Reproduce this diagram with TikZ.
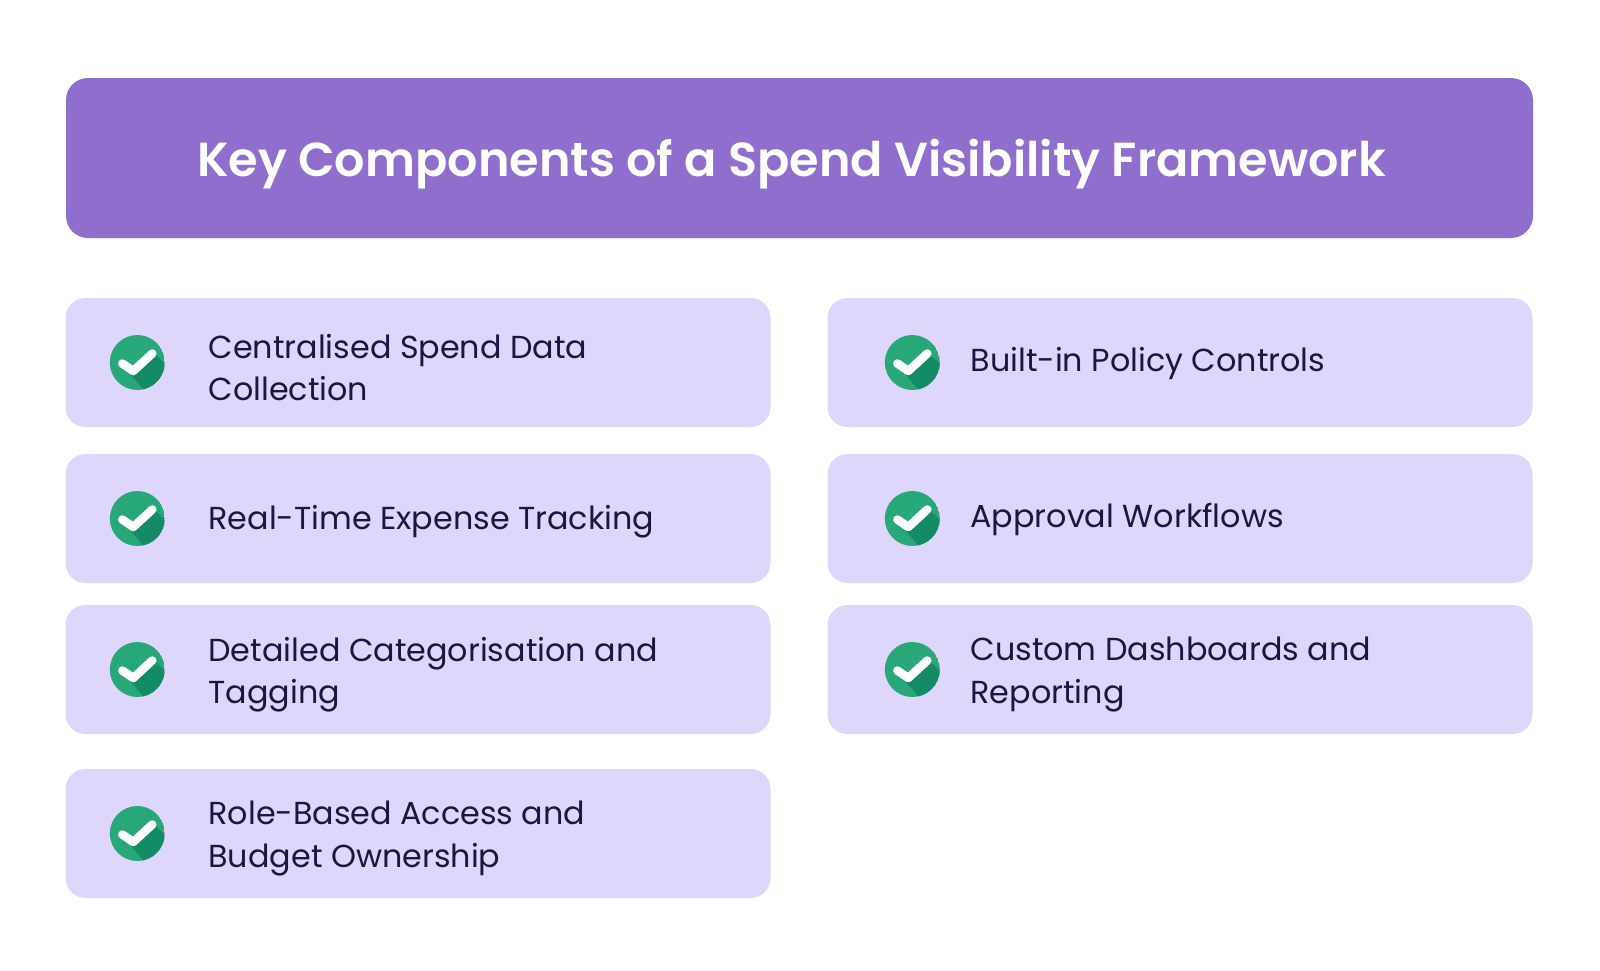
\documentclass[tikz,border=0pt]{standalone}
\usepackage{fontspec}
\setmainfont{Poppins}
\newfontfamily\titlefont{Poppins SemiBold}
\definecolor{titlebg}{HTML}{8F6ECE}
\definecolor{cardbg}{HTML}{DED6FB}
\definecolor{ink}{HTML}{1B1745}
\definecolor{chkgreen}{HTML}{28A878}
\definecolor{chkdark}{HTML}{138B66}
\tikzset{
  titlebox/.style={fill=titlebg, rounded corners=22pt, minimum width=1467pt, minimum height=160pt, inner sep=0pt},
  card/.style={fill=cardbg, rounded corners=20pt, minimum width=705pt, minimum height=129pt, inner sep=0pt},
  itemtext/.style={anchor=west, align=left, text=ink, inner sep=0pt, font=\fontsize{31.8}{42.5}\selectfont},
  chk/.pic={
    \begin{scope}
      \clip (0,0) circle (27.5);
      \fill[chkgreen] (0,0) circle (27.5);
      \fill[chkdark] (-16,1) -- (-4,8.5) -- (16,-10) -- (60,34) -- (40,60) -- (28,53) -- cycle;
    \end{scope}
    \draw[white, line width=8.5pt, line cap=round, line join=round] (-15,1) -- (-4,8.5) -- (15,-9);
  }
}
\begin{document}
\begin{tikzpicture}[x=1pt,y=-1pt]
\useasboundingbox (0,0) rectangle (1600,970);
\fill[white] (0,0) rectangle (1600,970);
\node[titlebox] (title) at (799.5,158) {};
\node[text=white, font=\fontsize{47.7}{56}\titlefont] (titletext) at ([xshift=-8pt,yshift=-6pt]title.center) {Key Components of a Spend Visibility Framework};
% left column
\node[card] (l1) at (418,362.5) {};
\node[card] (l2) at (418,518.5) {};
\node[card] (l3) at (418,669.5) {};
\node[card] (l4) at (418,833.5) {};
% right column
\node[card] (r1) at (1180,362.5) {};
\node[card] (r2) at (1180,518.5) {};
\node[card] (r3) at (1180,669.5) {};
% icons
\foreach \n in {l1,l2,l3,l4}{ \pic at ([xshift=72pt]\n.west) {chk}; }
\foreach \n in {r1,r2,r3}{ \pic at ([xshift=85pt]\n.west) {chk}; }
% texts
\node[itemtext] (t1) at ([xshift=143pt,yshift=-5pt]l1.west) {Centralised Spend Data\\Collection};
\node[itemtext] (t2) at ([xshift=143pt,yshift=-3pt]l2.west) {Real-Time Expense Tracking};
\node[itemtext] (t3) at ([xshift=143pt,yshift=-5pt]l3.west) {Detailed Categorisation and\\Tagging};
\node[itemtext] (t4) at ([xshift=143pt,yshift=-5pt]l4.west) {Role-Based Access and\\Budget Ownership};
\node[itemtext] (t5) at ([xshift=143pt,yshift=-1pt]r1.west) {Built-in Policy Controls};
\node[itemtext] (t6) at ([xshift=143pt,yshift=-1pt]r2.west) {Approval Workflows};
\node[itemtext] (t7) at ([xshift=143pt,yshift=-5pt]r3.west) {Custom Dashboards and\\Reporting};
\end{tikzpicture}
\end{document}
